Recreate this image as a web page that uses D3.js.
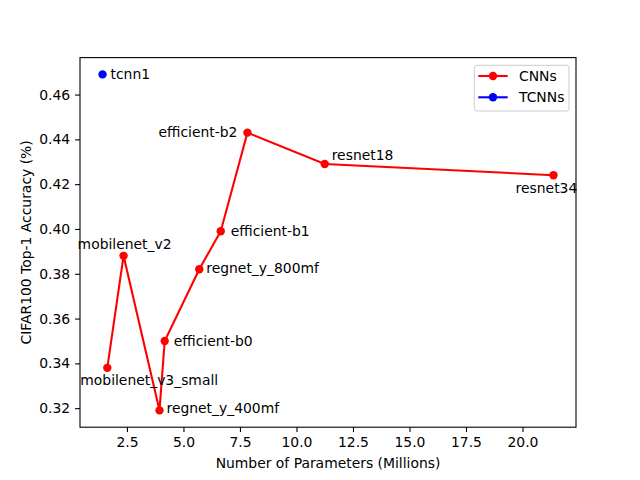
<!DOCTYPE html>
<html>
<head>
<meta charset="utf-8">
<script src="https://cdn.jsdelivr.net/npm/d3@7"></script>
<style>
  body { margin: 0; background: #fff; }
  svg text { font-family: "DejaVu Sans", sans-serif; fill: #000; }
</style>
</head>
<body>
<div id="chart"></div>
<script>
// CNN models, in line order
const cnnNames = ["mobilenet_v3_small", "mobilenet_v2", "regnet_y_400mf", "efficient-b0",
    "regnet_y_800mf", "efficient-b1", "efficient-b2", "resnet18", "resnet34"];
const cnnParams = [1.63, 2.35, 3.94, 4.17, 5.70, 6.65, 7.83, 11.25, 21.37];
const cnnAccuracy = [0.338, 0.388, 0.319, 0.350, 0.382, 0.399, 0.443, 0.429, 0.424];

// TCNN models
const tcnnNames = ["tcnn1"];
const tcnnParams = [1.42];
const tcnnAccuracy = [0.469];

const xTicks = [2.5, 5.0, 7.5, 10.0, 12.5, 15.0, 17.5, 20.0];
const yTicks = [0.32, 0.34, 0.36, 0.38, 0.40, 0.42, 0.44, 0.46];

// label placement relative to each point: [dx, dy, anchor]
const labelPlacement = {
    "mobilenet_v3_small": [-27, 12, "start"],
    "mobilenet_v2": [1, -12, "middle"],
    "regnet_y_400mf": [7, -2, "start"],
    "efficient-b0": [9, 0, "start"],
    "regnet_y_800mf": [7, -1, "start"],
    "efficient-b1": [10, 0, "start"],
    "efficient-b2": [-10, 0, "end"],
    "resnet18": [7, -9, "start"],
    "resnet34": [-7, 13, "middle"],
    "tcnn1": [8, 0, "start"]
};

const width = 640, height = 480;
const margin = { top: 57.6, right: 64, bottom: 52.8, left: 80 };
const innerW = width - margin.left - margin.right;
const innerH = height - margin.top - margin.bottom;
const fontSize = 13.9;

const svg = d3.select("#chart").append("svg")
    .attr("width", width)
    .attr("height", height);

const g = svg.append("g")
    .attr("transform", `translate(${margin.left},${margin.top})`);

// matplotlib-style 5% padding
const allX = cnnParams.concat(tcnnParams);
const allY = cnnAccuracy.concat(tcnnAccuracy);
const xExt = d3.extent(allX), yExt = d3.extent(allY);
const xPad = (xExt[1] - xExt[0]) * 0.05, yPad = (yExt[1] - yExt[0]) * 0.05;

const x = d3.scaleLinear().domain([xExt[0] - xPad, xExt[1] + xPad]).range([0, innerW]);
const y = d3.scaleLinear().domain([yExt[0] - yPad, yExt[1] + yPad]).range([innerH, 0]);

const xAxis = g.append("g")
    .attr("transform", `translate(0,${innerH})`)
    .call(d3.axisBottom(x).tickValues(xTicks).tickFormat(d3.format(".1f")).tickSizeOuter(0).tickSize(4.9).tickPadding(4.9));
const yAxis = g.append("g")
    .call(d3.axisLeft(y).tickValues(yTicks).tickFormat(d3.format(".2f")).tickSizeOuter(0).tickSize(4.9).tickPadding(4.9));

[xAxis, yAxis].forEach(a => {
    a.select(".domain").remove();
    a.selectAll(".tick line").attr("stroke", "#000").attr("stroke-width", 1.1);
    a.selectAll(".tick text").style("font-size", fontSize + "px").style("font-family", "DejaVu Sans");
});

// frame
g.append("rect")
    .attr("width", innerW).attr("height", innerH)
    .attr("fill", "none").attr("stroke", "#000").attr("stroke-width", 1.1);

const cnnData = cnnNames.map((name, i) => ({ name, x: cnnParams[i], y: cnnAccuracy[i] }));
const tcnnData = tcnnNames.map((name, i) => ({ name, x: tcnnParams[i], y: tcnnAccuracy[i] }));

const line = d3.line().x(d => x(d.x)).y(d => y(d.y));

function drawSeries(data, color) {
    g.append("path")
        .datum(data)
        .attr("d", line)
        .attr("fill", "none")
        .attr("stroke", color)
        .attr("stroke-width", 2.1);
    g.selectAll(null)
        .data(data)
        .enter()
        .append("circle")
        .attr("cx", d => x(d.x))
        .attr("cy", d => y(d.y))
        .attr("r", 4.2)
        .attr("fill", color);
    g.selectAll(null)
        .data(data)
        .enter()
        .append("text")
        .attr("x", d => x(d.x) + labelPlacement[d.name][0])
        .attr("y", d => y(d.y) + labelPlacement[d.name][1])
        .attr("dy", "0.35em")
        .attr("text-anchor", d => labelPlacement[d.name][2])
        .style("font-size", fontSize + "px")
        .text(d => d.name);
}

drawSeries(cnnData, "#ff0000");
drawSeries(tcnnData, "#0000ff");

// axis labels
svg.append("text")
    .attr("x", margin.left + innerW / 2)
    .attr("y", 463)
    .attr("dy", "0.35em")
    .attr("text-anchor", "middle")
    .style("font-size", fontSize + "px")
    .text("Number of Parameters (Millions)");

svg.append("text")
    .attr("transform", `translate(26,${margin.top + innerH / 2}) rotate(-90)`)
    .attr("dy", "0.35em")
    .attr("text-anchor", "middle")
    .style("font-size", fontSize + "px")
    .text("CIFAR100 Top-1 Accuracy (%)");

// legend
const legendItems = [{ label: "CNNs", color: "#ff0000" }, { label: "TCNNs", color: "#0000ff" }];
const legend = svg.append("g").attr("transform", "translate(474.3,65.3)");
legend.append("rect")
    .attr("width", 94.7).attr("height", 45.7)
    .attr("rx", 2.5)
    .attr("fill", "#fff").attr("fill-opacity", 0.8)
    .attr("stroke", "#cccccc").attr("stroke-width", 1);

legendItems.forEach((item, i) => {
    const row = legend.append("g").attr("transform", `translate(0,${10.7 + i * 21.3})`);
    row.append("line")
        .attr("x1", 4).attr("x2", 33.4)
        .attr("stroke", item.color).attr("stroke-width", 2.1);
    row.append("circle")
        .attr("cx", 18.7).attr("r", 4.2).attr("fill", item.color);
    row.append("text")
        .attr("x", 44.7)
        .attr("dy", "0.35em")
        .style("font-size", fontSize + "px")
        .text(item.label);
});
</script>
</body>
</html>
